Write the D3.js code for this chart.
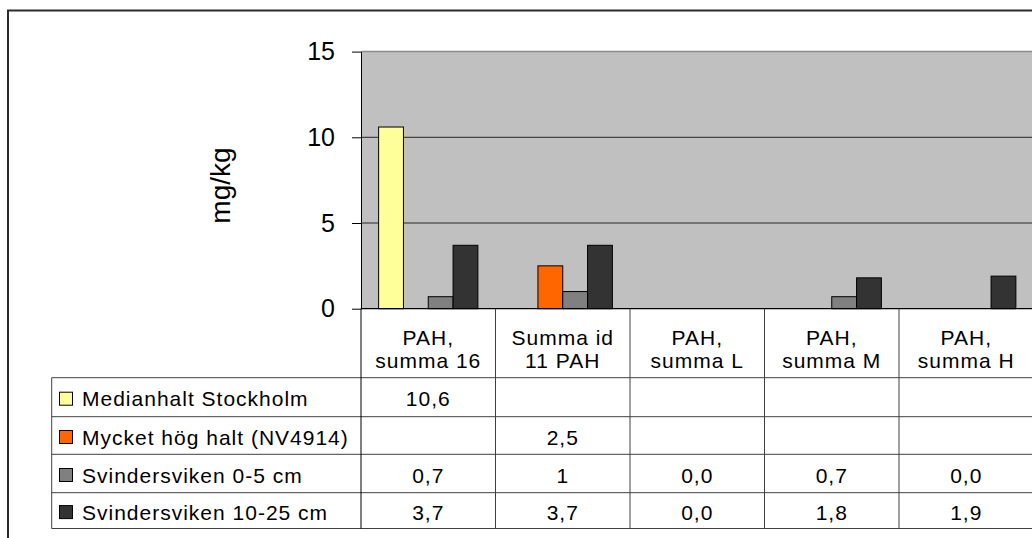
<!DOCTYPE html>
<html>
<head>
<meta charset="utf-8">
<script src="https://cdn.jsdelivr.net/npm/d3@7/dist/d3.min.js"></script>
<style>
  html, body { margin: 0; padding: 0; background: #fff; }
  svg { display: block; font-family: "Liberation Sans", Arial, sans-serif; }
</style>
</head>
<body>
<svg id="chart" width="1032" height="538"></svg>
<script>
// PAH concentrations (mg/kg) in sediment, Svindersviken vs. reference levels
const categories = [
  ["PAH,", "summa 16"],
  ["Summa id", "11 PAH"],
  ["PAH,", "summa L"],
  ["PAH,", "summa M"],
  ["PAH,", "summa H"]
];
const seriesNames = [
  "Medianhalt Stockholm",
  "Mycket hög halt (NV4914)",
  "Svindersviken 0-5 cm",
  "Svindersviken 10-25 cm"
];
const medianhalt   = [10.6, null, null, null, null];
const mycketHog    = [null, 2.5, null, null, null];
const svin0_5      = [0.7, 1, 0.0, 0.7, 0.0];
const svin10_25    = [3.7, 3.7, 0.0, 1.8, 1.9];
// number of decimals shown in the data table, per cell
const medianDecimals  = [1, 1, 1, 1, 1];
const mycketDecimals  = [1, 1, 1, 1, 1];
const svin0_5Decimals = [1, 0, 1, 1, 1];
const svin10_25Decimals = [1, 1, 1, 1, 1];
const yTicks = [0, 5, 10, 15];
const yTitle = "mg/kg";
const seriesColors = ["#FFFF99", "#FF6600", "#808080", "#333333"];

const seriesValues = [medianhalt, mycketHog, svin0_5, svin10_25];
const seriesDecimals = [medianDecimals, mycketDecimals, svin0_5Decimals, svin10_25Decimals];

const sv = d3.formatLocale({ decimal: ",", thousands: " ", grouping: [3], currency: ["", " kr"] });
const fmt = (v, dec) => sv.format("." + dec + "f")(v);

const svg = d3.select("#chart");
const font = "'Liberation Sans', Arial, sans-serif";

// plot geometry
const plotLeft = 361, plotTop = 51.6, plotBottom = 308.7;
const bandW = 134.5;
const plotRight = plotLeft + bandW * categories.length;

const x = d3.scaleBand()
  .domain(d3.range(categories.length))
  .range([plotLeft, plotRight])
  .paddingInner(0).paddingOuter(0);

const xs = d3.scaleBand()
  .domain(d3.range(seriesNames.length))
  .range([0, x.bandwidth()])
  .paddingInner(0).paddingOuter(0.71);

const y = d3.scaleLinear().domain([0, 15]).range([plotBottom, plotTop]);

// outer chart frame
svg.append("rect")
  .attr("x", 8).attr("y", 10.5)
  .attr("width", 1100).attr("height", 600)
  .attr("fill", "none").attr("stroke", "#2b2b2b").attr("stroke-width", 2);

// plot area
svg.append("rect")
  .attr("x", plotLeft).attr("y", plotTop)
  .attr("width", plotRight - plotLeft).attr("height", plotBottom - plotTop)
  .attr("fill", "#C0C0C0");
svg.append("line")
  .attr("x1", plotLeft).attr("x2", plotRight)
  .attr("y1", plotTop).attr("y2", plotTop)
  .attr("stroke", "#8a8a8a").attr("stroke-width", 1.5);

// gridlines
svg.append("g")
  .selectAll("line")
  .data(yTicks.filter(t => t > 0 && t < 15))
  .join("line")
  .attr("x1", plotLeft).attr("x2", plotRight)
  .attr("y1", d => y(d)).attr("y2", d => y(d))
  .attr("stroke", "#262626").attr("stroke-width", 1);

// bars
seriesValues.forEach((vals, si) => {
  svg.append("g")
    .selectAll("rect")
    .data(vals.map((v, ci) => ({ v, ci })).filter(d => d.v !== null && d.v > 0))
    .join("rect")
    .attr("x", d => x(d.ci) + xs(si))
    .attr("y", d => y(d.v))
    .attr("width", xs.bandwidth())
    .attr("height", d => y(0) - y(d.v))
    .attr("fill", seriesColors[si])
    .attr("stroke", "#000").attr("stroke-width", 1);
});

// y axis
const yAxis = d3.axisLeft(y).tickValues(yTicks).tickSize(9).tickSizeOuter(0).tickPadding(17);
const gy = svg.append("g").attr("transform", `translate(${plotLeft},0)`).call(yAxis);
gy.select(".domain").attr("stroke", "#000");
gy.selectAll(".tick line").attr("stroke", "#000");
gy.selectAll(".tick text")
  .attr("font-family", font).attr("font-size", 25).attr("fill", "#000");

svg.append("text")
  .attr("transform", "translate(229.5,185.5) rotate(-90)")
  .attr("text-anchor", "middle")
  .attr("font-family", font).attr("font-size", 28).attr("fill", "#000")
  .text(yTitle);

// data table
const tableLeft = 51.7;
const rowLines = [377.7, 416.7, 454.3, 492.7, 528.5];
const tableBottom = rowLines[rowLines.length - 1];
const lineColor = "#404040";
const tg = svg.append("g");

// baseline / category axis
tg.append("line")
  .attr("x1", plotLeft).attr("x2", 1040)
  .attr("y1", plotBottom).attr("y2", plotBottom)
  .attr("stroke", "#000").attr("stroke-width", 1.2);

rowLines.forEach(ry => {
  tg.append("line")
    .attr("x1", tableLeft).attr("x2", 1040)
    .attr("y1", ry).attr("y2", ry)
    .attr("stroke", lineColor).attr("stroke-width", 1);
});
tg.append("line")
  .attr("x1", tableLeft).attr("x2", tableLeft)
  .attr("y1", rowLines[0]).attr("y2", tableBottom)
  .attr("stroke", lineColor).attr("stroke-width", 1);
d3.range(categories.length + 1).forEach(i => {
  const vx = plotLeft + i * x.step();
  tg.append("line")
    .attr("x1", vx).attr("x2", vx)
    .attr("y1", plotBottom).attr("y2", tableBottom)
    .attr("stroke", i === 0 ? "#000" : lineColor).attr("stroke-width", 1);
});

const tStyle = sel => sel
  .attr("font-family", font).attr("font-size", 21)
  .attr("letter-spacing", 1).attr("fill", "#000");

// category headers
categories.forEach((lines, ci) => {
  const cx = x(ci) + x.bandwidth() / 2;
  lines.forEach((ln, li) => {
    tg.append("text")
      .attr("x", cx).attr("y", 345 + li * 23)
      .attr("text-anchor", "middle")
      .call(tStyle).text(ln);
  });
});

// legend keys and values
seriesNames.forEach((name, si) => {
  const top = rowLines[si], bot = rowLines[si + 1];
  const mid = (top + bot) / 2 + 1.5;
  tg.append("rect")
    .attr("x", 59.5).attr("y", mid - 6.5)
    .attr("width", 13).attr("height", 13)
    .attr("fill", seriesColors[si]).attr("stroke", "#000").attr("stroke-width", 1);
  tg.append("text")
    .attr("x", 82).attr("y", mid + 7.5)
    .call(tStyle).text(name);
  seriesValues[si].forEach((v, ci) => {
    if (v === null) return;
    tg.append("text")
      .attr("x", x(ci) + x.bandwidth() / 2).attr("y", mid + 7.5)
      .attr("text-anchor", "middle")
      .call(tStyle).text(fmt(v, seriesDecimals[si][ci]));
  });
});
</script>
</body>
</html>
